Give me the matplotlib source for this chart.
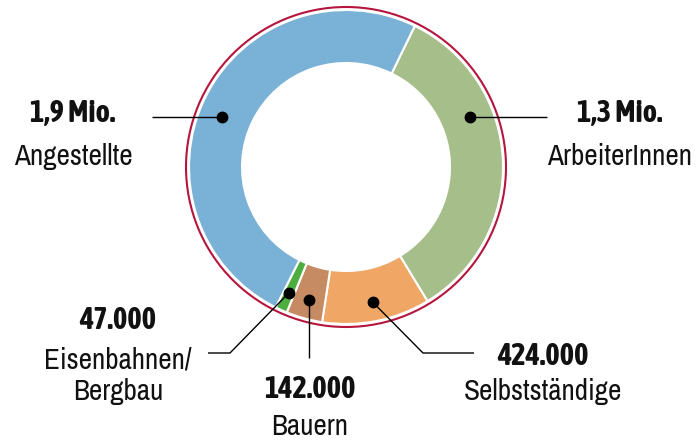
import numpy as np
import matplotlib
matplotlib.use('Agg')
from matplotlib import pyplot as plt
from matplotlib import font_manager as fm
from matplotlib.patches import Circle

# Daten (clockwise from the top)
labels = ['ArbeiterInnen', 'Selbstständige', 'Bauern', 'Eisenbahnen/\nBergbau', 'Angestellte']
values = [1300000, 424000, 142000, 47000, 1900000]
value_texts = ['1,3 Mio.', '424.000', '142.000', '47.000', '1,9 Mio.']
colors = ['#A6BE8A', '#F0A766', '#C68B63', '#4DAE3F', '#7AB1D6']

W, H = 697, 442


def weight_num(w):
    if isinstance(w, str):
        return {'bold': 700, 'semibold': 600, 'demibold': 600, 'heavy': 800,
                'black': 900, 'extra bold': 800, 'light': 300}.get(w.lower(), 400)
    return int(w)


def find_narrow(target):
    """look for a condensed / narrow face among the installed fonts"""
    best, best_key = None, None
    for f in fm.fontManager.ttflist:
        narrow = ('Narrow' in f.name or 'Condensed' in f.name
                  or str(f.stretch) in ('condensed', 'semi-condensed'))
        if not narrow or f.style != 'normal':
            continue
        if 'Extra' in f.name or 'Semi' in f.name:
            continue
        key = (abs(weight_num(f.weight) - target), f.name)
        if best_key is None or key < best_key:
            best, best_key = f, key
    return best


fb, fr = find_narrow(700), find_narrow(400)
if fb is not None and fr is not None:
    prop_b = fm.FontProperties(fname=fb.fname, size=22)
    prop_r = fm.FontProperties(fname=fr.fname, size=21)
else:
    prop_b = fm.FontProperties(family='DejaVu Sans', weight='bold', size=17)
    prop_r = fm.FontProperties(family='DejaVu Sans', size=16)


def up(y):
    """pixel y from top -> data y"""
    return H - y


fig = plt.figure(figsize=(W / 100, H / 100), dpi=100)
ax = fig.add_axes([0, 0, 1, 1])

cx, cy = 346, up(167)
r_out, ring = 157, 53
wedges, _ = ax.pie(values, colors=colors, startangle=64, counterclock=False,
                   radius=r_out, center=(cx, cy),
                   wedgeprops=dict(width=ring, edgecolor='white', linewidth=1.5))
ax.add_patch(Circle((cx, cy), 160, fill=False, edgecolor='#B5163D', lw=1.5))
ax.set_xlim(0, W)
ax.set_ylim(0, H)
ax.set_aspect('equal')
ax.axis('off')

# layout: dot angle override, leader path (pixel coords), text anchor
dot_angle = [22, None, None, None, 158]
leaders = [
    [(547, None)],
    [(423, 353), (474, 353)],
    [(None, 358)],
    [(230, 353), (208, 353)],
    [(152, None)],
]
text_pos = [(620, 122, 165), (543, 365, 400), (310, 398, 435), (118, 329, 368), (73, 122, 165)]

for i, w in enumerate(wedges):
    ang = dot_angle[i] if dot_angle[i] is not None else (w.theta1 + w.theta2) / 2
    r_dot = 134 if dot_angle[i] is not None else 138
    dx = cx + r_dot * np.cos(np.radians(ang))
    dy = cy + r_dot * np.sin(np.radians(ang))
    xs, ys = [dx], [dy]
    for px, py in leaders[i]:
        xs.append(dx if px is None else px)
        ys.append(dy if py is None else up(py))
    ax.plot(xs, ys, color='k', lw=1.0, solid_capstyle='butt')
    ax.plot(dx, dy, 'o', color='k', markersize=7.5)

    tx, y1, y2 = text_pos[i]
    ax.text(tx, up(y1), value_texts[i], ha='center', va='baseline',
            fontproperties=prop_b, color='#111111')
    lines = labels[i].split('\n')
    ax.text(tx, up(y2), lines[0], ha='center', va='baseline', fontproperties=prop_r, color='#111111')
    if len(lines) > 1:
        ax.text(tx, up(400), lines[1], ha='center', va='baseline',
                fontproperties=prop_r, color='#111111')

fig.savefig('out.png', dpi=100)
